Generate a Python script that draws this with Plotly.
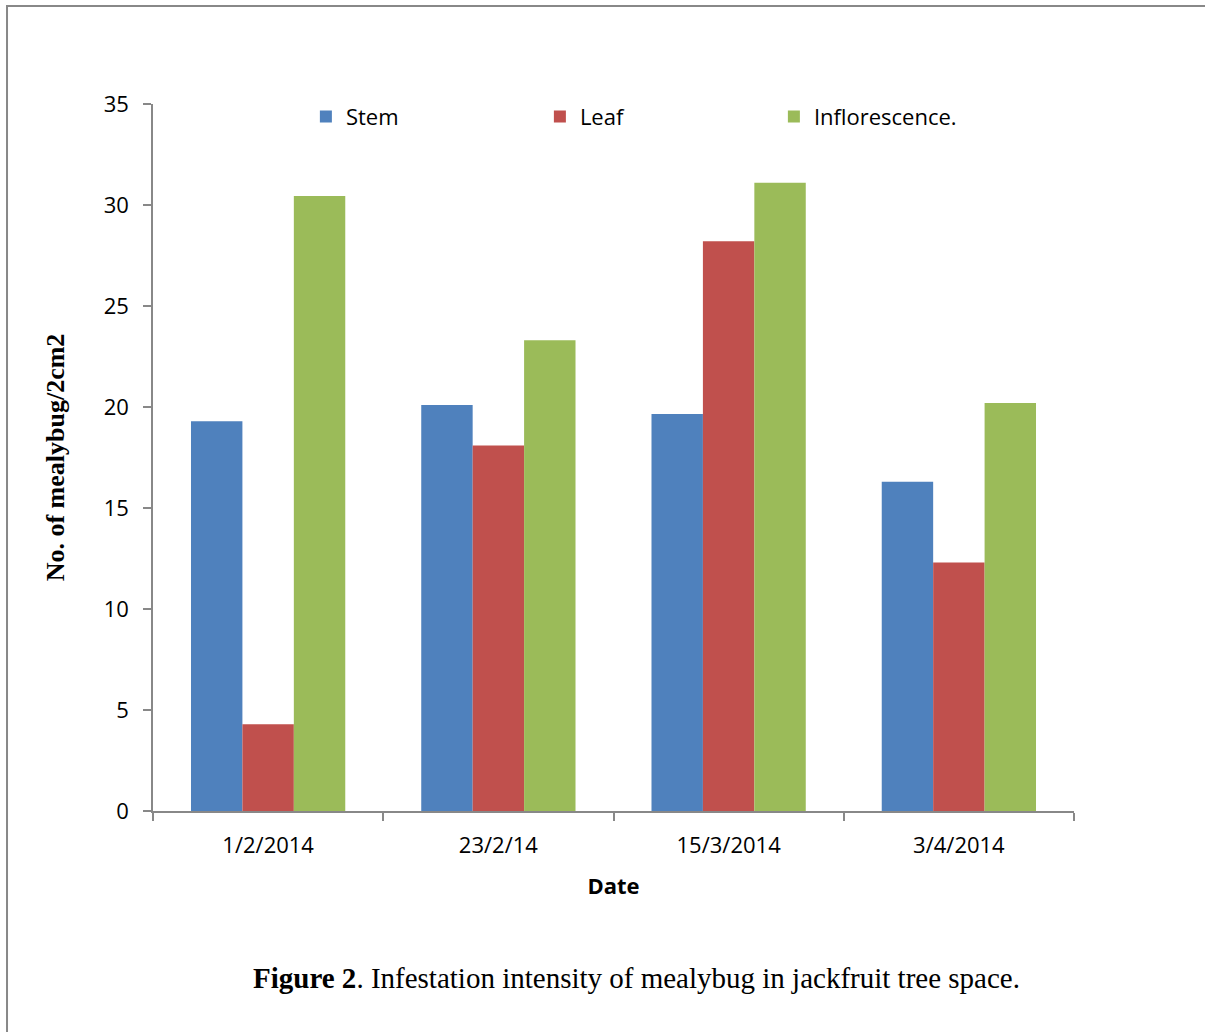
import plotly.graph_objects as go

dates = ["1/2/2014", "23/2/14", "15/3/2014", "3/4/2014"]
stem = [19.3, 20.1, 19.65, 16.3]
leaf = [4.3, 18.1, 28.2, 12.3]
inflorescence = [30.45, 23.3, 31.1, 20.2]
y_ticks = [0, 5, 10, 15, 20, 25, 30, 35]

fig = go.Figure()
fig.add_trace(go.Bar(name="Stem", x=dates, y=stem, marker_color="#4F81BD", marker_line_width=0))
fig.add_trace(go.Bar(name="Leaf", x=dates, y=leaf, marker_color="#C0504D", marker_line_width=0))
fig.add_trace(go.Bar(name="Inflorescence.", x=dates, y=inflorescence, marker_color="#9BBB59", marker_line_width=0))

tickfont = dict(family="Open Sans, Noto Sans, sans-serif", size=22, color="#000")
serif = "Liberation Serif, Times New Roman, serif"

fig.update_layout(
    width=1205, height=1032,
    margin=dict(l=153, r=131, t=104, b=221),
    paper_bgcolor="white", plot_bgcolor="white",
    barmode="group", bargap=0.33, bargroupgap=0,
    showlegend=True,
    legend=dict(orientation="h", x=0.166, y=0.982, xanchor="left", yanchor="middle",
                font=tickfont, entrywidth=189, entrywidthmode="pixels",
                itemwidth=30, bgcolor="rgba(0,0,0,0)", traceorder="normal"),
    xaxis=dict(showline=True, linecolor="#888", linewidth=1.5, ticks="outside",
               tickson="boundaries", ticklen=8, tickcolor="#888", tickwidth=1.5,
               tickfont=tickfont, showgrid=False, ticklabelstandoff=14,
               title=dict(text="<b>Date</b>", font=tickfont, standoff=20)),
    yaxis=dict(range=[0, 35], tickvals=y_ticks, showline=True, linecolor="#888", linewidth=1.5,
               ticks="outside", ticklen=8, tickcolor="#888", tickwidth=1.5,
               tickfont=tickfont, showgrid=False, zeroline=False, ticklabelstandoff=10,
               title=dict(text="<b>No. of mealybug/2cm2</b>",
                          font=dict(family=serif, size=26, color="#000"),
                          standoff=32)),
    annotations=[dict(xref="paper", yref="paper", x=0.525, y=-0.236, xanchor="center", yanchor="middle",
                      showarrow=False,
                      text="<b>Figure 2</b>. Infestation intensity of mealybug in jackfruit tree space.",
                      font=dict(family=serif, size=29, color="#000"))],
    shapes=[dict(type="rect", xref="paper", yref="paper", x0=-0.1585, y0=-0.35, x1=1.2, y1=1.1386,
                 line=dict(color="#888", width=2), fillcolor="rgba(0,0,0,0)", layer="below")],
)

fig.write_html("out.html", config={"displayModeBar": False},
               post_script="document.body.style.margin='0';")
